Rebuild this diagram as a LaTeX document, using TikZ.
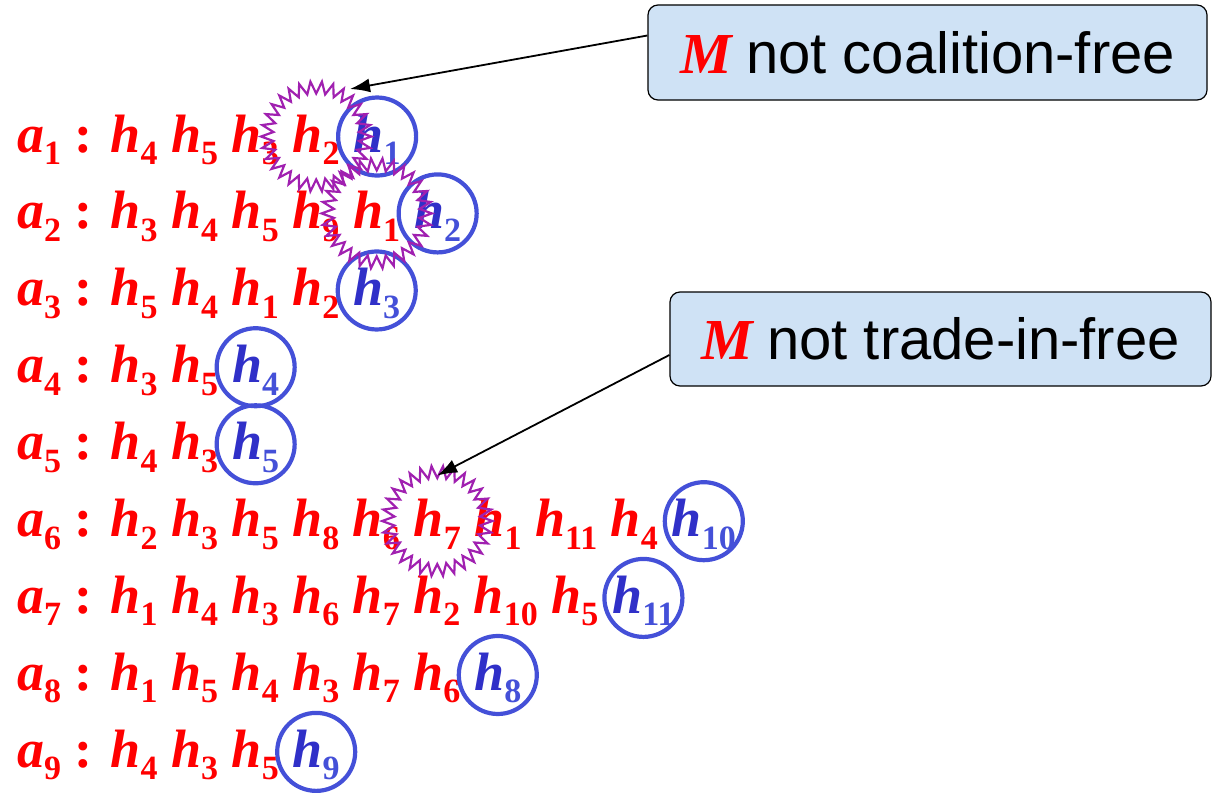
\documentclass[tikz,border=0pt]{standalone}
\usepackage{fontspec}
\setmainfont{Liberation Serif}
\newfontfamily\sansfont{Liberation Sans}
\usetikzlibrary{positioning,shapes.geometric,arrows.meta}
\definecolor{boxblue}{HTML}{CFE2F5}
\definecolor{ringblue}{HTML}{4450D8}
\definecolor{hblue}{HTML}{3030C8}
\definecolor{starpurple}{HTML}{A020B0}
\newcommand{\sub}[1]{\raisebox{-12.5pt}{\fontsize{34}{34}\selectfont\upshape#1}}
\newcommand{\hh}[1]{\textit{h}\sub{#1}}
\newcommand{\hb}[1]{\textcolor{hblue}{\textit{h}}\textcolor{ringblue}{\sub{#1}}}
\newcommand{\ag}[1]{\textit{a}\sub{#1}}
\begin{document}
\begin{tikzpicture}[x=1pt,y=-1pt,>={Latex[length=20pt,width=14pt]},
	pref/.style={anchor=base west,inner sep=0pt,text=red,font=\fontsize{54}{60}\selectfont\bfseries},
	nxt/.style={pref,right=13.5pt of #1.base east,anchor=base west},
	ring/.style={circle,draw=ringblue,line width=4.2pt,minimum size=78pt,inner sep=0pt},
	burst/.style={star,star points=30,star point ratio=0.78,draw=starpurple,line width=2.2pt,minimum size=86pt,inner sep=0pt},
	note/.style={draw,rounded corners=10pt,fill=boxblue,line width=1.2pt,inner sep=0pt,font=\fontsize{58}{60}\selectfont}]
	\useasboundingbox (0,0) rectangle (1212,792);
	% preference lists
	\node[pref] (p1) at (17,152) {\ag1 : \hh4 \hh5 \hh3};
	\node[nxt=p1] (x1) {\hh2};
	\node[nxt=x1] (c1) {\hb1};
	\node[pref] (p2) at (17,228.9) {\ag2 : \hh3 \hh4 \hh5 \hh9};
	\node[nxt=p2] (x2) {\hh1};
	\node[nxt=x2] (c2) {\hb2};
	\node[pref] (p3) at (17,305.8) {\ag3 : \hh5 \hh4 \hh1 \hh2};
	\node[nxt=p3] (c3) {\hb3};
	\node[pref] (p4) at (17,382.7) {\ag4 : \hh3 \hh5};
	\node[nxt=p4] (c4) {\hb4};
	\node[pref] (p5) at (17,459.6) {\ag5 : \hh4 \hh3};
	\node[nxt=p5] (c5) {\hb5};
	\node[pref] (p6) at (17,536.5) {\ag6 : \hh2 \hh3 \hh5 \hh8 \hh6};
	\node[nxt=p6] (x6) {\hh7};
	\node[nxt=x6] (q6) {\hh1 \hh{11} \hh4};
	\node[nxt=q6] (c6) {\hb{10}};
	\node[pref] (p7) at (17,613.4) {\ag7 : \hh1 \hh4 \hh3 \hh6 \hh7 \hh2 \hh{10} \hh5};
	\node[nxt=p7] (c7) {\hb{11}};
	\node[pref] (p8) at (17,690.3) {\ag8 : \hh1 \hh5 \hh4 \hh3 \hh7 \hh6};
	\node[nxt=p8] (c8) {\hb8};
	\node[pref] (p9) at (17,767.2) {\ag9 : \hh4 \hh3 \hh5};
	\node[nxt=p9] (c9) {\hb9};
	% matched houses and blocking pairs
	\foreach \r in {1,...,9} \node[ring] (o\r) at ([yshift=3pt]c\r.center) {};
	\foreach \r in {1,2,6} \node[burst] (s\r) at ([yshift=3pt]x\r.center) {};
	% remarks
	\node[note,minimum width=559pt,minimum height=95pt] (n1) at (927.5,52.5) {{\color{red}\bfseries\itshape M} \sansfont not coalition-free};
	\node[note,minimum width=541pt,minimum height=94pt] (n2) at (940.5,339) {{\color{red}\bfseries\itshape M} \sansfont not trade-in-free};
	\coordinate (t1) at (350,89);
	\draw[->,line width=1.8pt] ([yshift=17pt]n1.west)--(t1);
	\draw[->,line width=1.8pt] ([yshift=-16pt]n2.west)--(s6.north);
\end{tikzpicture}
\end{document}
